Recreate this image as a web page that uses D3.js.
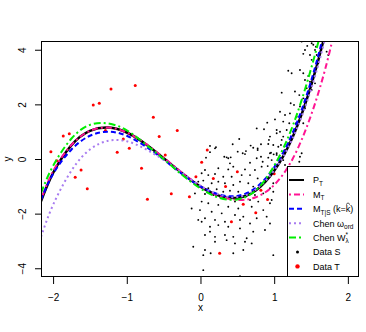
<!DOCTYPE html>
<html>
<head>
<meta charset="utf-8">
<script src="https://cdn.jsdelivr.net/npm/d3@7"></script>
<style>
body { margin: 0; background: #fff; }
svg { display: block; }
text { font-family: "Liberation Sans", Arial, Helvetica, sans-serif; }
</style>
</head>
<body>
<svg id="chart" width="366" height="332"></svg>
<script>
const xTicks = [-2, -1, 0, 1, 2];
const yTicks = [-4, -2, 0, 2, 4];

// Data S (black)
const dataS = [
  [0.906, 1.33], [0.763, 1.12], [0.862, 1.09], [0.526, 0.73], [0.929, 0.70], [0.210, 0.43],
  [0.437, 0.54], [0.681, 0.49], [0.821, 0.54], [0.920, 0.55], [0.716, 0.41], [0.776, 0.33],
  [0.617, 0.29], [0.505, 0.27], [0.604, 0.18], [0.957, 0.23], [0.993, 0.17], [0.129, 0.25],
  [0.075, 0.05], [0.355, 0.06], [0.410, 0.06], [0.763, 0.03], [0.821, 0.08], [0.920, 0.05],
  [0.400, -0.16], [0.672, -0.14], [0.844, -0.10], [0.912, -0.26], [0.061, -0.40], [0.106, -0.59],
  [0.242, -0.34], [0.377, -0.38], [0.445, -0.28], [0.604, -0.38], [0.739, -0.40], [0.830, -0.28],
  [0.016, -0.52], [0.197, -0.55], [0.309, -0.65], [0.423, -0.65], [0.559, -0.59], [0.672, -0.59],
  [0.776, -0.71], [0.875, -0.77], [-0.030, -0.83], [0.038, -0.79], [0.152, -0.89], [0.242, -0.83],
  [0.332, -0.89], [0.445, -0.95], [0.536, -0.83], [0.649, -0.89], [0.716, -1.01], [0.807, -0.95],
  [0.943, -1.07], [-0.007, -1.01], [0.106, -1.07], [0.220, -1.11], [0.309, -1.20], [0.400, -1.16],
  [0.513, -1.20], [0.627, -1.26], [0.739, -1.32], [0.852, -1.26], [0.988, -1.20], [-0.075, -1.26],
  [0.061, -1.28], [0.174, -1.32], [0.265, -1.38], [0.355, -1.44], [0.468, -1.56], [0.672, -1.50],
  [0.784, -1.56], [0.943, -1.62], [0.016, -1.56], [0.106, -1.62], [0.242, -1.68], [0.377, -1.75],
  [0.513, -1.81], [0.695, -1.75], [0.852, -1.87], [-0.007, -1.87], [0.152, -1.93], [0.288, -1.99],
  [0.468, -2.05], [0.581, -2.11], [0.763, -2.17], [0.898, -2.11], [0.061, -2.17], [0.197, -2.23],
  [0.332, -2.30], [0.536, -2.23], [0.016, -2.30], [0.672, -2.36], [0.242, -2.42], [0.377, -2.48],
  [0.129, -2.48], [0.536, -2.54], [0.875, -2.60], [0.716, -2.66], [0.129, -2.66], [0.197, -2.85],
  [0.332, -2.78], [0.445, -2.85], [0.061, -2.78], [0.627, -2.90], [0.604, -3.03], [0.468, -3.09],
  [0.355, -2.97], [0.197, -3.03], [0.695, -3.09], [0.061, -3.33], [0.581, -3.33], [0.445, -3.45],
  [0.038, -3.52], [-0.098, -3.21], [0.038, -4.07], [0.536, -4.29], [0.988, -3.52], [0.138, -3.45],
  [-0.030, -2.23], [-0.120, -1.81], [0.129, 0.48], [0.197, 0.39], [0.323, 0.08], [0.377, 0.03],
  [0.573, 0.21], [0.776, 0.39], [0.988, 0.51], [1.034, 0.94], [1.079, 1.00], [1.123, 0.82],
  [1.092, 0.51], [1.034, 0.21], [1.373, 4.30], [1.509, 4.24], [1.531, 4.18], [1.567, 4.11],
  [1.449, 4.14], [1.418, 3.99], [1.554, 3.99], [1.486, 3.81], [1.395, 3.85], [1.577, 3.81],
  [1.509, 3.63], [1.598, 3.51], [1.191, 3.23], [1.237, 3.14], [1.350, 3.26], [1.395, 3.14],
  [1.463, 3.04], [1.418, 2.89], [1.486, 2.83], [1.554, 2.77], [1.441, 2.59], [1.509, 2.53],
  [1.102, 2.43], [1.282, 2.47], [1.341, 2.34], [1.395, 2.22], [1.224, 2.04], [1.269, 1.98],
  [1.350, 1.92], [1.418, 1.86], [1.079, 1.73], [1.147, 1.61], [1.214, 1.67], [1.305, 1.55],
  [1.011, 1.45], [1.123, 1.37], [1.205, 1.31], [1.296, 1.31], [1.395, 1.31], [1.034, 1.06],
  [1.170, 1.06], [1.259, 1.00], [0.943, 0.82], [1.102, 0.70], [1.191, 0.58], [1.056, 0.45],
  [1.147, 0.33], [0.943, 0.21], [1.034, 0.15], [0.966, -0.04], [1.123, -0.04], [1.350, 0.08],
  [1.011, -0.22], [1.147, -0.22], [1.373, 0.21], [1.712, 3.93], [1.734, 3.81], [0.988, -0.89],
  [0.966, -1.50], [0.943, -2.36], [1.341, -0.10]
];

// Data T (red)
const dataT = [
  [-1.214, 2.56], [-0.885, 2.69], [-1.455, 1.98], [-1.373, 2.04], [-0.640, 1.53], [-0.315, 1.04],
  [-0.560, 0.82], [-1.862, 0.84], [-1.780, 0.92], [-1.290, 1.04], [-1.047, 0.73], [-0.966, 0.39],
  [-1.130, 0.25], [-2.030, 0.27], [-1.950, -0.06], [-0.478, 0.15], [-1.620, -0.40], [-0.800, -0.34],
  [-1.700, -0.67], [-1.536, -1.09], [-0.720, -1.47], [-0.396, -1.27], [-0.150, -1.38], [0.092, 0.33],
  [0.016, -0.12], [-0.062, -0.65], [0.174, -0.71], [0.500, -0.47], [0.340, -1.01], [0.580, -1.66],
  [0.820, -1.14], [0.910, -1.48], [0.750, -1.97], [0.420, -2.30], [0.260, -3.45], [1.000, -0.54]
];

// fitted curves, read at these x positions
const gridX   = [-2.164, -2.0, -1.75, -1.5, -1.25, -1.0, -0.75, -0.5, -0.25, 0, 0.25, 0.5, 0.75, 1.0, 1.25, 1.5, 1.75, 2.0];
const pT      = [-1.55, -0.51, 0.51, 1.03, 1.15, 0.97, 0.56, 0.03, -0.52, -1.01, -1.34, -1.42, -1.15, -0.43, 0.80, 2.68, 5.28, 8.7];
const mT      = [-1.50, -0.45, 0.52, 1.03, 1.15, 0.97, 0.57, 0.05, -0.50, -1.00, -1.35, -1.50, -1.40, -0.95, 0.00, 1.60, 3.90, 7.0];
const mTS     = [-1.50, -0.55, 0.35, 0.85, 1.00, 0.85, 0.47, -0.02, -0.55, -1.00, -1.30, -1.35, -1.05, -0.30, 0.95, 2.85, 5.50, 9.0];
const chenOrd = [-2.85, -1.68, -0.42, 0.35, 0.67, 0.65, 0.37, -0.03, -0.50, -0.98, -1.30, -1.40, -1.12, -0.42, 0.75, 2.55, 5.10, 8.5];
const chenW   = [-1.25, -0.25, 0.75, 1.25, 1.30, 1.05, 0.55, 0.00, -0.58, -1.08, -1.42, -1.48, -1.15, -0.25, 1.20, 3.30, 6.00, 9.5];

const W = 366, H = 332;
const margin = { top: 41, right: 7, bottom: 55, left: 41 };
const svg = d3.select('#chart');

const x = d3.scaleLinear().domain([-2.164, 2.151]).range([margin.left, W - margin.right]);
const y = d3.scaleLinear().domain([-4.32, 4.32]).range([H - margin.bottom, margin.top]);

svg.append('rect').attr('width', W).attr('height', H).attr('fill', '#fff');

svg.append('clipPath').attr('id', 'clip')
  .append('rect')
  .attr('x', margin.left).attr('y', margin.top)
  .attr('width', W - margin.left - margin.right)
  .attr('height', H - margin.top - margin.bottom);

const plot = svg.append('g').attr('clip-path', 'url(#clip)');

plot.selectAll('circle.s').data(dataS).join('circle')
  .attr('class', 's')
  .attr('cx', d => x(d[0])).attr('cy', d => y(d[1]))
  .attr('r', 0.95).attr('fill', '#000');

plot.selectAll('circle.t').data(dataT).join('circle')
  .attr('class', 't')
  .attr('cx', d => x(d[0])).attr('cy', d => y(d[1]))
  .attr('r', 1.5).attr('fill', '#ff0000');

const series = [
  { v: pT, color: '#000000', w: 2.5, dash: null },
  { v: mT, color: '#ff1493', w: 2, dash: '2,3,6,3' },
  { v: mTS, color: '#0000ff', w: 2, dash: '5,3' },
  { v: chenOrd, color: '#a87cf0', w: 2, dash: '2,3' },
  { v: chenW, color: '#00ee00', w: 2, dash: '7,3,2,3' }
];

const line = d3.line()
  .x((d, i) => x(gridX[i]))
  .y(d => y(d))
  .curve(d3.curveNatural);

series.forEach(s => {
  plot.append('path')
    .attr('d', line(s.v))
    .attr('fill', 'none')
    .attr('stroke', s.color)
    .attr('stroke-width', s.w)
    .attr('stroke-dasharray', s.dash);
});

// axes
const fmt = d => (d < 0 ? '\u2212' + (-d) : String(d));

const gx = svg.append('g')
  .attr('transform', `translate(0,${H - margin.bottom})`)
  .call(d3.axisBottom(x).tickValues(xTicks).tickSize(7).tickPadding(10).tickFormat(fmt));
gx.select('.domain').remove();
gx.selectAll('text').attr('font-size', 10).attr('fill', '#000');

const gy = svg.append('g')
  .attr('transform', `translate(${margin.left},0)`)
  .call(d3.axisLeft(y).tickValues(yTicks).tickSize(6).tickFormat(fmt));
gy.select('.domain').remove();
gy.selectAll('text')
  .attr('x', null).attr('dy', null)
  .attr('text-anchor', 'middle')
  .attr('font-size', 10)
  .attr('fill', '#000')
  .attr('transform', 'translate(-15.5,0) rotate(-90)');

svg.append('rect')
  .attr('x', margin.left + 0.5).attr('y', margin.top + 0.5)
  .attr('width', W - margin.left - margin.right - 1)
  .attr('height', H - margin.top - margin.bottom - 1)
  .attr('fill', 'none').attr('stroke', '#000');

svg.append('text').attr('x', x(0)).attr('y', 311)
  .attr('text-anchor', 'middle').attr('font-size', 10).text('x');
svg.append('text').attr('transform', `translate(10.5,${y(0)}) rotate(-90)`)
  .attr('text-anchor', 'middle').attr('font-size', 10).text('y');

// legend
const legendX = 287.5, legendY = 166.5;
svg.append('rect')
  .attr('x', legendX).attr('y', legendY)
  .attr('width', W - margin.right - legendX - 0.5)
  .attr('height', H - margin.bottom - legendY - 0.5)
  .attr('fill', '#fff').attr('stroke', '#000');

const legendLabels = [
  [['P'], ['T', 'sub']],
  [['M'], ['T', 'sub']],
  [['M'], ['T|S', 'sub'], [' (k='], ['k', 'hat'], [')']],
  [['Chen \u03c9'], ['ord', 'sub']],
  [['Chen W'], ['*', 'sup'], ['\u03bb', 'stack']],
  [['Data S']],
  [['Data T']]
];
const legendKeys = [
  { type: 'line', s: series[0], w: 2 },
  { type: 'line', s: series[1] },
  { type: 'line', s: series[2] },
  { type: 'line', s: series[3] },
  { type: 'line', s: series[4] },
  { type: 'dot', color: '#000', r: 1.5 },
  { type: 'dot', color: '#ff0000', r: 2.2 }
];

const shift = { sub: 2.5, stack: 2.5, sup: -3.5, hat: 0 };
legendLabels.forEach((parts, i) => {
  const cy = 180 + i * 14.4;
  const key = legendKeys[i];
  if (key.type === 'line') {
    svg.append('line')
      .attr('x1', 289).attr('x2', 304).attr('y1', cy).attr('y2', cy)
      .attr('stroke', key.s.color)
      .attr('stroke-width', key.w || key.s.w)
      .attr('stroke-dasharray', key.s.dash);
  } else {
    svg.append('circle').attr('cx', 297.5).attr('cy', cy).attr('r', key.r).attr('fill', key.color);
  }

  const t = svg.append('text').attr('x', 313).attr('y', cy + 3.3).attr('font-size', 9);
  let cur = 0, count = 0, starIdx = -1, hatIdx = -1;
  const stackSpans = [];
  parts.forEach(([txt, kind]) => {
    const s = shift[kind] || 0;
    const sp = t.append('tspan').attr('dy', s - cur).text(txt);
    if (kind === 'sub' || kind === 'sup' || kind === 'stack') sp.attr('font-size', 6.5);
    if (kind === 'sup') starIdx = count;
    if (kind === 'stack') stackSpans.push(sp);
    if (kind === 'hat') hatIdx = count;
    cur = s;
    count += txt.length;
  });
  const node = t.node();
  stackSpans.forEach(sp => {
    const p = node.getStartPositionOfChar(starIdx);
    sp.attr('x', p.x);
  });
  if (hatIdx >= 0) {
    // hat over k drawn as a small chevron
    const e = node.getExtentOfChar(hatIdx);
    const hx = e.x + e.width / 2, hy = cy - 6;
    svg.append('path')
      .attr('d', `M${hx - 2},${hy + 1.8}L${hx},${hy}L${hx + 2},${hy + 1.8}`)
      .attr('fill', 'none').attr('stroke', '#000').attr('stroke-width', 0.7);
  }
});
</script>
</body>
</html>
